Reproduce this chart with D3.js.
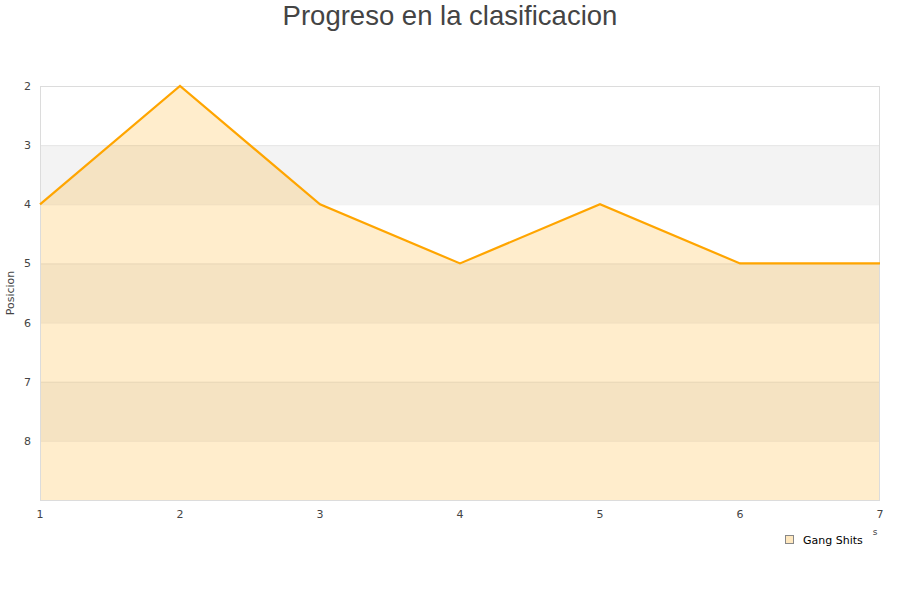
<!DOCTYPE html>
<html><head><meta charset="utf-8">
<script src="https://cdn.jsdelivr.net/npm/d3@7"></script>
<style>body{margin:0;background:#fff;font-family:"DejaVu Sans",sans-serif}</style>
</head><body>
<svg id="c" width="900" height="600"></svg>
<script>
const jornadas = [1,2,3,4,5,6,7];
const posiciones = [4,2,4,5,4,5,5];
const yTicks = [2,3,4,5,6,7,8];
const seriesName = "Gang Shits";
const title = "Progreso en la clasificacion";
const yTitle = "Posicion";

const svg = d3.select("#c");
const m = {l:40, r:880, t:86, b:500};
const x = d3.scaleLinear().domain([1,7]).range([m.l, m.r]);
const y = d3.scaleLinear().domain([2,9]).range([m.t, m.b]);

// bands
const bands = [3,5,7];
svg.selectAll("rect.band").data(bands).enter().append("rect")
  .attr("x", m.l).attr("width", m.r-m.l)
  .attr("y", d=>y(d)).attr("height", d=>y(d+1)-y(d))
  .attr("fill", "#f3f3f3");

// area
const area = d3.area().x((d,i)=>x(jornadas[i])).y0(y(9)).y1(d=>y(d));
svg.append("path").datum(posiciones).attr("d", area)
  .attr("fill", "rgba(255,165,0,0.2)");

// gridlines
svg.selectAll("line.grid").data(yTicks.slice(1)).enter().append("line")
  .attr("x1", m.l).attr("x2", m.r).attr("y1", d=>y(d)+0.5).attr("y2", d=>y(d)+0.5)
  .attr("stroke", "rgba(0,0,0,0.06)");

// border
svg.append("rect").attr("x", m.l+0.5).attr("y", m.t+0.5).attr("width", m.r-m.l-1).attr("height", m.b-m.t)
  .attr("fill","none").attr("stroke","#dcdcdc");

// line
const line = d3.line().x((d,i)=>x(jornadas[i])).y(d=>y(d));
svg.append("path").datum(posiciones).attr("d", line)
  .attr("fill","none").attr("stroke","#ffa500").attr("stroke-width",2.2);

// y labels
svg.selectAll("text.yl").data(yTicks).enter().append("text")
  .attr("x", 31).attr("y", d=>y(d)+4).attr("text-anchor","end")
  .attr("font-size", 11).attr("fill","#444").text(d=>d);
// x labels
svg.selectAll("text.xl").data(jornadas).enter().append("text")
  .attr("x", d=>x(d)).attr("y", 518).attr("text-anchor","middle")
  .attr("font-size", 11).attr("fill","#444").text(d=>d);

// y title
svg.append("text").attr("transform","translate(14,293) rotate(-90)")
  .attr("text-anchor","middle").attr("font-size",11).attr("fill","#444").text(yTitle);

// title
svg.append("text").attr("x",450).attr("y",25).attr("text-anchor","middle")
  .attr("font-size",27.5).attr("font-family","'Liberation Sans',Arial,sans-serif").attr("fill","#444").text(title);

// stray axis-title fragment
svg.append("text").attr("x",875).attr("y",535).attr("text-anchor","middle")
  .attr("font-size",9).attr("fill","#444").text("s");

// legend
const lg = svg.append("g").attr("transform","translate(785,535)");
lg.append("rect").attr("x",0.5).attr("y",0.5).attr("width",8).attr("height",8)
  .attr("fill","rgba(255,165,0,0.25)").attr("stroke","#888");
lg.append("text").attr("x",18).attr("y",8.5).attr("font-size",11).attr("fill","#000").text(seriesName);
</script>
</body></html>
